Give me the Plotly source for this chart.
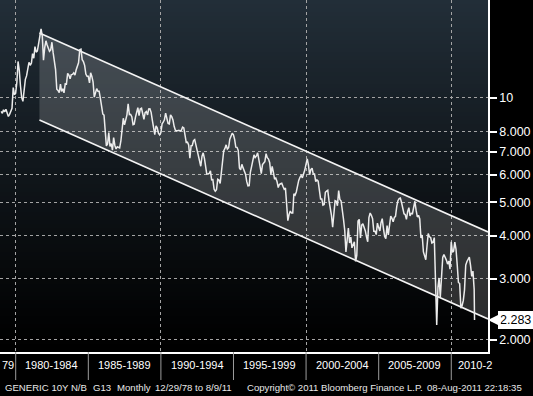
import calendar
import math
import plotly.graph_objects as go

# Monthly (month-end) generic 10Y US Treasury yield, Dec 1978 .. 9 Aug 2011
ten_year_yield = [
    9.15,                                                                     # 1978 Dec
    9.03, 9.24, 9.12, 9.28, 9.00, 8.84, 8.97, 9.23, 9.33, 10.72, 10.22, 10.33,  # 1979
    11.12, 12.75, 12.02, 10.83, 10.02, 9.78, 10.46, 11.32, 11.58, 12.31, 12.68, 12.43,  # 1980
    12.62, 13.43, 13.03, 14.08, 13.56, 13.68, 14.51, 15.32, 15.84, 15.10, 12.85, 13.98,  # 1981
    14.63, 14.25, 13.86, 13.64, 13.77, 14.49, 13.52, 12.59, 12.08, 10.60, 10.52, 10.36,  # 1982
    10.97, 10.45, 10.63, 10.35, 10.98, 10.97, 11.78, 11.65, 11.36, 11.68, 11.70, 11.82,  # 1983
    11.64, 12.04, 12.36, 12.64, 13.78, 13.83, 12.90, 12.73, 12.42, 11.72, 11.55, 11.55,  # 1984
    11.05, 11.83, 11.54, 11.14, 10.06, 10.36, 10.64, 10.45, 10.45, 9.97, 9.47, 8.99,  # 1985
    8.92, 7.77, 7.27, 7.36, 7.94, 7.24, 7.38, 7.07, 7.68, 7.29, 7.12, 7.23,  # 1986
    7.18, 7.17, 7.52, 8.37, 8.74, 8.36, 8.58, 8.94, 9.62, 8.95, 8.97, 8.83,  # 1987
    8.37, 8.40, 8.79, 9.04, 9.38, 8.89, 9.30, 9.34, 8.92, 8.68, 9.07, 9.14,  # 1988
    8.93, 9.29, 9.30, 9.09, 8.62, 8.08, 7.84, 8.30, 8.20, 7.91, 7.82, 7.93,  # 1989
    8.42, 8.51, 8.65, 9.04, 8.60, 8.44, 8.41, 8.94, 8.83, 8.64, 8.28, 8.07,  # 1990
    8.03, 8.04, 8.06, 8.02, 8.07, 8.24, 8.19, 7.81, 7.44, 7.45, 7.32, 6.70,  # 1991
    7.28, 7.29, 7.53, 7.58, 7.29, 7.12, 6.71, 6.59, 6.35, 6.79, 6.94, 6.69,  # 1992
    6.37, 6.03, 6.03, 6.05, 6.16, 5.80, 5.81, 5.45, 5.38, 5.43, 5.82, 5.79,  # 1993
    5.66, 6.15, 6.74, 7.03, 7.15, 7.32, 7.12, 7.18, 7.60, 7.81, 7.91, 7.82,  # 1994
    7.58, 7.21, 7.20, 7.06, 6.28, 6.20, 6.43, 6.28, 6.17, 6.02, 5.74, 5.57,  # 1995
    5.58, 6.10, 6.33, 6.67, 6.85, 6.73, 6.80, 6.94, 6.70, 6.34, 6.04, 6.42,  # 1996
    6.49, 6.55, 6.90, 6.72, 6.66, 6.50, 6.01, 6.34, 6.10, 5.83, 5.87, 5.74,  # 1997
    5.51, 5.62, 5.65, 5.67, 5.55, 5.45, 5.49, 4.98, 4.42, 4.61, 4.71, 4.65,  # 1998
    4.65, 5.29, 5.24, 5.35, 5.62, 5.78, 5.90, 5.97, 5.88, 6.02, 6.19, 6.44,  # 1999
    6.67, 6.41, 6.00, 6.21, 6.27, 6.03, 6.03, 5.73, 5.80, 5.75, 5.47, 5.11,  # 2000
    5.11, 4.90, 4.92, 5.34, 5.38, 5.41, 5.05, 4.83, 4.59, 4.23, 4.75, 5.05,  # 2001
    5.03, 4.88, 5.40, 5.09, 5.04, 4.80, 4.46, 4.14, 3.59, 3.89, 4.21, 3.81,  # 2002
    3.96, 3.69, 3.80, 3.84, 3.37, 3.51, 4.41, 4.46, 3.94, 4.29, 4.33, 4.25,  # 2003
    4.13, 3.97, 3.84, 4.51, 4.65, 4.58, 4.48, 4.12, 4.12, 4.03, 4.35, 4.22,  # 2004
    4.13, 4.36, 4.48, 4.20, 3.98, 3.92, 4.28, 4.02, 4.32, 4.56, 4.49, 4.39,  # 2005
    4.52, 4.55, 4.85, 5.05, 5.12, 5.14, 4.98, 4.73, 4.63, 4.60, 4.46, 4.70,  # 2006
    4.82, 4.56, 4.64, 4.63, 4.89, 5.03, 4.74, 4.53, 4.58, 4.47, 3.94, 4.02,  # 2007
    3.59, 3.51, 3.41, 3.73, 4.06, 3.97, 3.95, 3.81, 3.83, 3.95, 2.92, 2.21,  # 2008
    2.84, 3.02, 2.66, 3.12, 3.46, 3.53, 3.48, 3.40, 3.31, 3.38, 3.20, 3.84,  # 2009
    3.58, 3.61, 3.83, 3.66, 3.29, 2.93, 2.91, 2.47, 2.51, 2.60, 2.79, 3.29,  # 2010
    3.37, 3.42, 3.47, 3.29, 3.05, 3.16, 2.80, 2.283,                          # 2011
]
last_value = 2.283
last_date = "2011-08-09"

# Trend channel (two parallel lines on the log scale)
channel_dates = ["1981-08-20", "2012-07-13"]
channel_upper = [15.41, 4.10]
channel_lower = [8.64, 2.298]

# Axis settings
x_range = ["1978-12-02", "2012-07-13"]
y_range = [1.845, 19.19]
y_tick_vals = [2, 3, 4, 5, 6, 7, 8, 10]
y_tick_text = ["2.000", "3.000", "4.000", "5.000", "6.000", "7.000", "8.000", "10"]
x_grid_dates = ["1980-01-01", "1990-01-01", "2000-01-01", "2010-01-01"]
period_breaks = [1980, 1985, 1990, 1995, 2000, 2005, 2010]
period_labels = ["1980-1984", "1985-1989", "1990-1994", "1995-1999", "2000-2004", "2005-2009"]

footer_parts = [
    ("GENERIC 10Y N/B", 3),
    ("G13", 91),
    ("Monthly", 115),
    ("12/29/78 to 8/9/11", 153),
    ("Copyright\u00a9 2011 Bloomberg Finance L.P.", 245),
    ("08-Aug-2011 22:18:35", 425),
]

# month-end dates
dates = []
yy, mm = 1978, 12
for _ in range(len(ten_year_yield) - 1):
    d = calendar.monthrange(yy, mm)[1]
    dates.append(f"{yy}-{mm:02d}-{d:02d}")
    mm += 1
    if mm > 12:
        mm = 1
        yy += 1
dates.append(last_date)

W, H = 533, 396
ML, MR, MT, MB = 0, 45, 0, 44
PW, PH = W - ML - MR, H - MT - MB
FONT = "Liberation Sans"
GRID = "#a4a4a4"

fig = go.Figure()

# channel fill
fig.add_trace(go.Scatter(
    x=channel_dates + channel_dates[::-1],
    y=channel_upper + channel_lower[::-1],
    fill="toself", fillcolor="rgba(255,255,255,0.17)",
    line=dict(width=0), mode="lines", hoverinfo="skip", showlegend=False))
for arr in (channel_upper, channel_lower):
    fig.add_trace(go.Scatter(x=channel_dates, y=arr, mode="lines",
                             line=dict(color="#f4f4f4", width=1.6),
                             hoverinfo="skip", showlegend=False))

fig.add_trace(go.Scatter(x=dates, y=ten_year_yield, mode="lines",
                         line=dict(color="#ececec", width=1.5),
                         showlegend=False))

shapes = []
# background gradient (dark slate at top fading to black)
top = (34, 46, 56)
nb = 88
for i in range(nb):
    t = i / (nb - 1)
    c = tuple(int(round(v * (1 - t) ** 1.1)) for v in top)
    shapes.append(dict(type="rect", xref="paper", yref="paper", layer="below",
                       x0=0, x1=1, y1=1 - i / nb, y0=1 - (i + 1) / nb,
                       line=dict(width=0), fillcolor=f"rgb{c}"))
# separators of the period labels below the axis
for yr in period_breaks:
    shapes.append(dict(type="line", xref="x", yref="paper",
                       x0=f"{yr}-01-01", x1=f"{yr}-01-01",
                       y0=0, y1=-28 / PH, line=dict(color="#9c9c9c", width=1)))

annotations = []
lab_y = (PH - 365) / PH
for yr, lab in zip(period_breaks, period_labels):
    annotations.append(dict(x=f"{yr + 2}-07-02", xref="x", y=lab_y, yref="paper",
                            text=lab, showarrow=False, xanchor="center", yanchor="middle",
                            font=dict(family=FONT, size=11, color="white")))
annotations.append(dict(x=0, xref="paper", y=lab_y, yref="paper", text="79",
                        showarrow=False, xanchor="left", yanchor="middle",
                        font=dict(family=FONT, size=11, color="white")))
annotations.append(dict(x=456 / PW, xref="paper", y=lab_y, yref="paper", text="2010-2",
                        showarrow=False, xanchor="left", yanchor="middle",
                        font=dict(family=FONT, size=11, color="white")))
foot_y = (PH - 387) / PH
for txt, px in footer_parts:
    annotations.append(dict(x=px / PW, xref="paper", y=foot_y, yref="paper", text=txt,
                            showarrow=False, xanchor="left", yanchor="middle",
                            font=dict(family=FONT, size=9.6, color="#e8e8e8")))
# last value marker on the axis
annotations.append(dict(x=1, xref="paper", y=math.log10(last_value), yref="y",
                        text=f"{last_value:.3f}", showarrow=True, ax=27, ay=0,
                        arrowhead=2, arrowsize=1.0, arrowwidth=2.5, arrowcolor="white",
                        standoff=0, bgcolor="white", bordercolor="white", borderpad=1,
                        font=dict(family=FONT, size=12.5, color="black")))

fig.update_layout(
    width=W, height=H, margin=dict(l=ML, r=MR, t=MT, b=MB),
    paper_bgcolor="black", plot_bgcolor="rgba(0,0,0,0)",
    shapes=shapes, annotations=annotations, showlegend=False,
    xaxis=dict(type="date", range=x_range, tickmode="array", tickvals=x_grid_dates,
               showticklabels=False, ticks="", showgrid=True, gridcolor=GRID,
               gridwidth=1, griddash="3px,3px", showline=True, linecolor="white",
               linewidth=1.5, zeroline=False, fixedrange=True),
    yaxis=dict(type="log", side="right", range=[math.log10(v) for v in y_range],
               tickmode="array", tickvals=y_tick_vals, ticktext=y_tick_text,
               ticks="outside", ticklen=7, tickwidth=2, tickcolor="white",
               tickfont=dict(family=FONT, size=12.5, color="white"),
               showgrid=True, gridcolor=GRID, gridwidth=1, griddash="3px,3px",
               showline=True, linecolor="white", linewidth=1.5, zeroline=False,
               fixedrange=True),
)

fig.write_html("out.html", config={"displayModeBar": False},
               post_script="document.body.style.margin='0';"
                           "document.body.style.background='black';")
